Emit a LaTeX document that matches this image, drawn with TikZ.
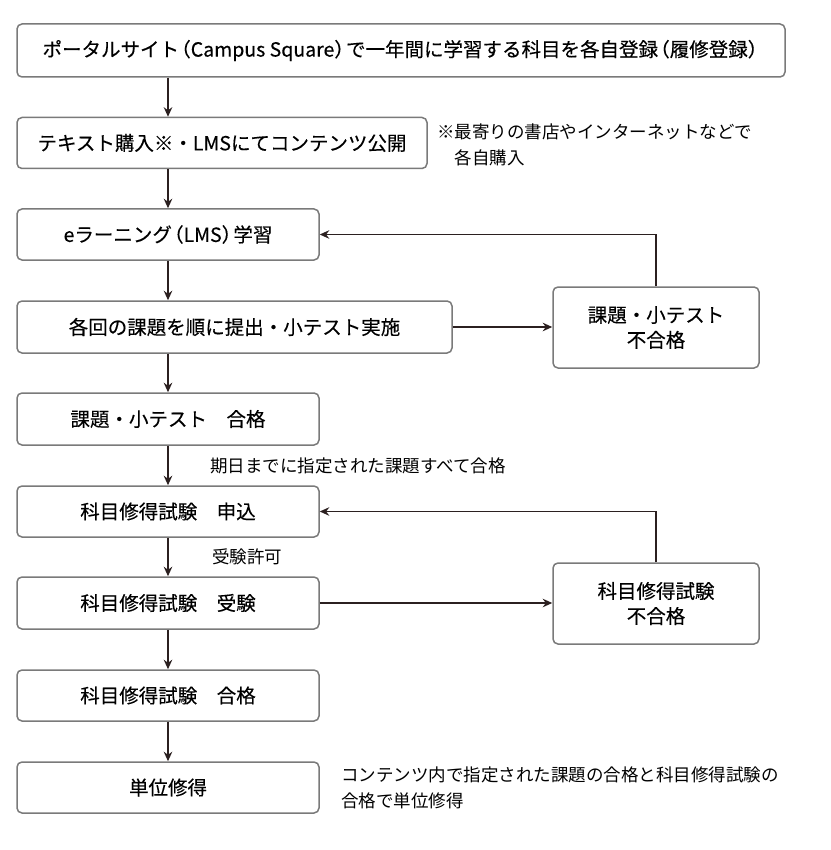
\documentclass[tikz,border=0pt]{standalone}
\usepackage{fontspec}
\setmainfont{Noto Sans CJK JP}
\newfontfamily\boxfont[FakeBold=0.3]{Noto Sans CJK JP}
\usetikzlibrary{arrows.meta, positioning}
\definecolor{boxgray}{HTML}{7A7A7A}
\definecolor{arrowbrown}{HTML}{2B2020}
\newcommand{\lp}{\hspace{-0.4em}（}
\newcommand{\rp}{）\hspace{-0.4em}}

\begin{document}
\begin{tikzpicture}[x=1pt, y=-1pt,
    box/.style={draw=boxgray, line width=1.5pt, rounded corners=5pt,
      inner sep=0pt, align=center, font=\boxfont\fontsize{19.5}{25}\selectfont},
    note/.style={anchor=west, inner sep=0pt, align=left,
      font=\fontsize{17.5}{26}\selectfont},
    arr/.style={draw=arrowbrown, line width=1.6pt, -{Stealth[length=9.5pt, width=8.5pt]}}]
  \useasboundingbox (0,0) rectangle (830,850);
  % main flow
  \node[box, minimum width=768, minimum height=53] (portal) at (401,50.5)
  {ポータルサイト\lp Campus Square\rp で一年間に学習する科目を各自登録\lp 履修登録\rp};
  \node[box, minimum width=410, minimum height=51] (text) at (222,143)
  {テキスト購入※・LMSにてコンテンツ公開};
  \node[box, minimum width=302, minimum height=51] (elearn) at (168,234.5)
  {eラーニング\lp LMS\rp 学習};
  \node[box, minimum width=435, minimum height=52] (submit) at (234.5,327)
  {各回の課題を順に提出・小テスト実施};
  \node[box, minimum width=302, minimum height=52] (pass) at (168,419)
  {課題・小テスト　合格};
  \node[box, minimum width=302, minimum height=51] (apply) at (168,511.5)
  {科目修得試験　申込};
  \node[box, minimum width=302, minimum height=52] (exam) at (168,603)
  {科目修得試験　受験};
  \node[box, minimum width=302, minimum height=51] (exampass) at (168,695.5)
  {科目修得試験　合格};
  \node[box, minimum width=302, minimum height=51] (credit) at (168,787.5)
  {単位修得};
  % failures
  \node[box, minimum width=206, minimum height=81] (fail) at (656,327.5)
  {課題・小テスト\\不合格};
  \node[box, minimum width=206, minimum height=81] (examfail) at (656,603.5)
  {科目修得試験\\不合格};
  % notes
  \node[note] (buynote) at (437,145)
  {※最寄りの書店やインターネットなどで\\　各自購入};
  \node[note] (duenote) at (210,466) {期日までに指定された課題すべて合格};
  \node[note] (permit) at (212,557) {受験許可};
  \node[note] (creditnote) at (341,788)
  {コンテンツ内で指定された課題の合格と科目修得試験の\\合格で単位修得};
  % arrows
  \draw[arr] (portal.south -| elearn) -- (text.north -| elearn);
  \draw[arr] (text.south -| elearn) -- (elearn.north);
  \draw[arr] (elearn.south) -- (submit.north -| elearn);
  \draw[arr] (submit.south -| elearn) -- (pass.north);
  \draw[arr] (pass) -- (apply);
  \draw[arr] (apply) -- (exam);
  \draw[arr] (exam) -- (exampass);
  \draw[arr] (exampass) -- (credit);
  \draw[arr] (submit.east) -- (submit.east -| fail.west);
  \draw[arr] (fail.north) |- (elearn.east);
  \draw[arr] (exam.east) -- (exam.east -| examfail.west);
  \draw[arr] (examfail.north) |- (apply.east);
\end{tikzpicture}
\end{document}
